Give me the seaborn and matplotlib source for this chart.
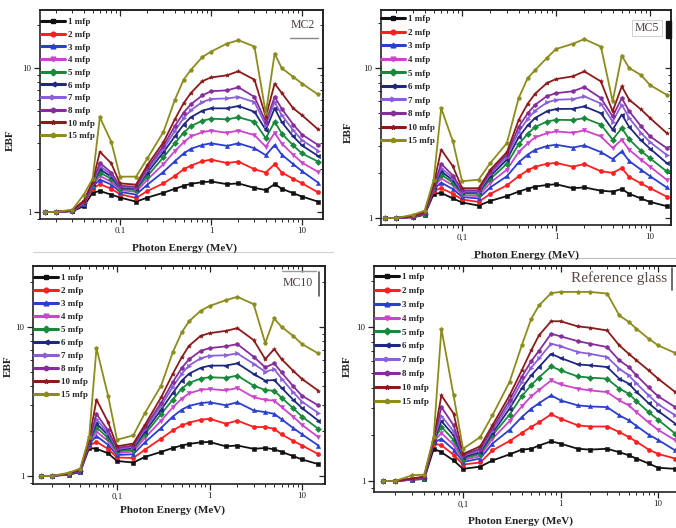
import matplotlib
matplotlib.use("Agg")
import numpy as np
import pandas as pd
import matplotlib.pyplot as plt
from matplotlib.lines import Line2D
from matplotlib.patches import Rectangle
from matplotlib.ticker import FixedLocator, FixedFormatter, LogLocator, NullFormatter
import seaborn as sns

# ---------------------------------------------------------------- data
energy = [0.015, 0.02, 0.03, 0.04, 0.05, 0.06, 0.08, 0.1, 0.15, 0.2, 0.3, 0.4,
          0.5, 0.6, 0.8, 1, 1.5, 2, 3, 4, 5, 6, 8, 10, 15]
depths = ["1 mfp", "2 mfp", "3 mfp", "4 mfp", "5 mfp",
          "6 mfp", "7 mfp", "8 mfp", "10 mfp", "15 mfp"]

# MC2 glass
mc2_1 = [1.00, 1.00, 1.01, 1.10, 1.36, 1.40, 1.32, 1.26, 1.18, 1.26, 1.36, 1.45, 1.52, 1.57, 1.61, 1.63, 1.56, 1.58, 1.47, 1.42, 1.56, 1.45, 1.35, 1.28, 1.18]
mc2_2 = [1.00, 1.00, 1.02, 1.13, 1.45, 1.56, 1.45, 1.33, 1.25, 1.40, 1.58, 1.78, 1.98, 2.10, 2.25, 2.31, 2.19, 2.24, 1.98, 1.88, 2.15, 1.88, 1.70, 1.58, 1.37]
mc2_3 = [1.00, 1.00, 1.02, 1.14, 1.50, 1.68, 1.55, 1.38, 1.32, 1.55, 1.90, 2.25, 2.55, 2.75, 2.92, 3.00, 2.88, 3.00, 2.77, 2.48, 2.92, 2.50, 2.15, 1.92, 1.60]
mc2_4 = [1.00, 1.00, 1.02, 1.15, 1.52, 1.78, 1.62, 1.42, 1.38, 1.68, 2.15, 2.65, 3.05, 3.35, 3.58, 3.68, 3.55, 3.68, 3.42, 2.84, 3.55, 2.98, 2.50, 2.20, 1.90]
mc2_5 = [1.00, 1.00, 1.02, 1.16, 1.55, 1.88, 1.70, 1.45, 1.42, 1.78, 2.40, 3.00, 3.55, 3.95, 4.30, 4.45, 4.40, 4.55, 4.24, 3.25, 4.24, 3.50, 2.90, 2.55, 2.24]
mc2_6 = [1.00, 1.00, 1.02, 1.16, 1.57, 1.98, 1.76, 1.48, 1.45, 1.88, 2.60, 3.35, 4.05, 4.55, 5.05, 5.25, 5.25, 5.45, 4.97, 3.71, 5.25, 4.20, 3.35, 2.90, 2.45]
mc2_7 = [1.00, 1.00, 1.02, 1.17, 1.58, 2.08, 1.82, 1.50, 1.47, 1.95, 2.75, 3.65, 4.50, 5.10, 5.80, 6.10, 6.15, 6.30, 5.80, 4.00, 5.80, 4.70, 3.70, 3.15, 2.67]
mc2_8 = [1.00, 1.00, 1.02, 1.17, 1.60, 2.20, 1.88, 1.52, 1.50, 2.02, 2.88, 3.95, 4.90, 5.60, 6.45, 6.90, 7.00, 7.35, 6.30, 4.24, 6.30, 5.20, 4.05, 3.45, 2.92]
mc2_10 = [1.00, 1.00, 1.03, 1.20, 1.62, 2.62, 2.18, 1.58, 1.55, 2.12, 3.05, 4.40, 5.70, 6.70, 8.10, 8.60, 8.90, 9.50, 8.30, 4.59, 7.80, 6.70, 5.25, 4.70, 3.75]
mc2_15 = [1.00, 1.00, 1.04, 1.32, 1.70, 4.55, 3.08, 1.76, 1.76, 2.36, 3.60, 6.00, 8.30, 9.70, 11.9, 13.0, 14.8, 15.6, 14.1, 4.85, 12.6, 9.95, 8.70, 7.80, 6.55]

# MC5 glass
mc5_1 = [1.00, 1.00, 1.01, 1.05, 1.45, 1.47, 1.35, 1.27, 1.21, 1.30, 1.40, 1.50, 1.57, 1.62, 1.66, 1.68, 1.58, 1.60, 1.52, 1.50, 1.56, 1.45, 1.35, 1.28, 1.20]
mc5_2 = [1.00, 1.00, 1.01, 1.06, 1.52, 1.58, 1.45, 1.33, 1.28, 1.45, 1.65, 1.90, 2.08, 2.20, 2.30, 2.33, 2.20, 2.29, 2.05, 2.00, 2.15, 1.88, 1.70, 1.58, 1.39]
mc5_3 = [1.00, 1.00, 1.02, 1.06, 1.56, 1.72, 1.56, 1.38, 1.35, 1.60, 1.90, 2.35, 2.65, 2.85, 3.02, 3.08, 2.95, 3.05, 2.75, 2.47, 2.78, 2.40, 2.10, 1.90, 1.60]
mc5_4 = [1.00, 1.00, 1.02, 1.07, 1.58, 1.84, 1.65, 1.42, 1.40, 1.72, 2.10, 2.75, 3.15, 3.45, 3.68, 3.78, 3.70, 3.84, 3.50, 2.93, 3.33, 2.85, 2.45, 2.20, 1.80]
mc5_5 = [1.00, 1.00, 1.02, 1.07, 1.60, 1.95, 1.72, 1.46, 1.45, 1.82, 2.30, 3.10, 3.65, 4.05, 4.40, 4.52, 4.50, 4.64, 4.20, 3.33, 3.98, 3.35, 2.80, 2.50, 2.05]
mc5_6 = [1.00, 1.00, 1.02, 1.07, 1.62, 2.05, 1.78, 1.48, 1.48, 1.90, 2.45, 3.45, 4.15, 4.65, 5.15, 5.33, 5.35, 5.55, 5.00, 3.88, 4.90, 4.05, 3.30, 2.90, 2.33]
mc5_7 = [1.00, 1.00, 1.02, 1.08, 1.63, 2.15, 1.85, 1.50, 1.50, 1.97, 2.55, 3.75, 4.60, 5.20, 5.90, 6.15, 6.20, 6.47, 5.80, 4.40, 5.70, 4.65, 3.70, 3.20, 2.64]
mc5_8 = [1.00, 1.00, 1.02, 1.08, 1.64, 2.30, 1.92, 1.53, 1.53, 2.03, 2.65, 4.05, 5.00, 5.70, 6.50, 6.80, 7.00, 7.47, 6.30, 4.76, 6.30, 5.15, 4.10, 3.50, 2.93]
mc5_10 = [1.00, 1.00, 1.03, 1.09, 1.68, 2.86, 2.21, 1.58, 1.58, 2.10, 2.75, 4.50, 5.80, 6.75, 7.95, 8.45, 8.80, 9.50, 8.15, 5.14, 7.55, 6.15, 5.30, 4.64, 3.69]
mc5_15 = [1.00, 1.00, 1.05, 1.12, 1.80, 5.40, 3.24, 1.76, 1.80, 2.33, 3.16, 6.30, 8.60, 9.70, 11.7, 13.4, 14.5, 15.6, 13.9, 6.00, 12.1, 10.0, 9.00, 7.70, 6.64]

# MC10 glass
mc10_1 = [1.00, 1.00, 1.02, 1.06, 1.54, 1.52, 1.42, 1.26, 1.23, 1.34, 1.45, 1.54, 1.60, 1.64, 1.68, 1.69, 1.58, 1.60, 1.52, 1.54, 1.51, 1.45, 1.36, 1.29, 1.20]
mc10_2 = [1.00, 1.00, 1.03, 1.07, 1.60, 1.69, 1.52, 1.33, 1.32, 1.50, 1.78, 2.02, 2.18, 2.28, 2.38, 2.42, 2.24, 2.35, 2.13, 2.13, 2.07, 1.90, 1.72, 1.60, 1.40]
mc10_3 = [1.00, 1.00, 1.03, 1.07, 1.64, 1.85, 1.62, 1.38, 1.40, 1.68, 2.10, 2.50, 2.78, 2.95, 3.08, 3.12, 2.98, 3.12, 2.75, 2.68, 2.61, 2.40, 2.10, 1.90, 1.60]
mc10_4 = [1.00, 1.00, 1.03, 1.08, 1.66, 1.98, 1.72, 1.42, 1.46, 1.80, 2.35, 2.88, 3.30, 3.58, 3.78, 3.83, 3.75, 3.89, 3.37, 3.24, 3.20, 2.90, 2.50, 2.20, 1.82]
mc10_5 = [1.00, 1.00, 1.03, 1.08, 1.68, 2.12, 1.80, 1.46, 1.50, 1.90, 2.60, 3.25, 3.85, 4.20, 4.50, 4.59, 4.55, 4.71, 4.03, 3.77, 3.73, 3.35, 2.85, 2.50, 2.07]
mc10_6 = [1.00, 1.00, 1.03, 1.08, 1.70, 2.25, 1.88, 1.49, 1.54, 1.98, 2.78, 3.60, 4.35, 4.85, 5.30, 5.49, 5.50, 5.69, 4.83, 4.36, 4.40, 3.90, 3.25, 2.85, 2.35]
mc10_7 = [1.00, 1.00, 1.03, 1.09, 1.71, 2.40, 1.95, 1.51, 1.57, 2.05, 2.95, 3.95, 4.85, 5.50, 6.15, 6.40, 6.45, 6.63, 5.65, 5.00, 5.20, 4.50, 3.65, 3.15, 2.64]
mc10_8 = [1.00, 1.00, 1.03, 1.09, 1.72, 2.60, 2.02, 1.54, 1.60, 2.12, 3.10, 4.25, 5.30, 6.05, 6.90, 7.20, 7.40, 7.66, 6.30, 5.35, 5.69, 4.95, 4.00, 3.45, 2.97]
mc10_10 = [1.00, 1.00, 1.04, 1.10, 1.75, 3.25, 2.30, 1.58, 1.65, 2.20, 3.37, 4.83, 6.24, 7.46, 8.70, 9.07, 9.40, 9.80, 8.15, 6.08, 7.10, 6.08, 5.08, 4.47, 3.73]
mc10_15 = [1.00, 1.00, 1.05, 1.12, 1.82, 7.20, 3.46, 1.75, 1.87, 2.64, 4.03, 6.74, 9.17, 10.9, 12.8, 13.8, 15.1, 15.9, 14.2, 7.78, 11.4, 10.0, 8.71, 7.66, 6.63]

# Reference glass
ref_1 = [1.00, 1.00, 1.02, 1.03, 1.62, 1.54, 1.36, 1.20, 1.24, 1.36, 1.49, 1.60, 1.62, 1.70, 1.81, 1.75, 1.62, 1.60, 1.62, 1.54, 1.47, 1.40, 1.30, 1.22, 1.20]
ref_2 = [1.00, 1.00, 1.02, 1.04, 1.75, 1.71, 1.48, 1.28, 1.32, 1.58, 1.82, 2.05, 2.25, 2.40, 2.71, 2.54, 2.30, 2.26, 2.26, 2.08, 1.93, 1.80, 1.60, 1.50, 1.40]
ref_3 = [1.00, 1.00, 1.02, 1.04, 1.78, 1.88, 1.60, 1.33, 1.40, 1.75, 2.15, 2.60, 2.95, 3.20, 3.60, 3.34, 3.10, 3.05, 3.02, 2.67, 2.48, 2.28, 2.00, 1.85, 1.58]
ref_4 = [1.00, 1.00, 1.02, 1.05, 1.80, 2.05, 1.72, 1.37, 1.45, 1.88, 2.45, 3.05, 3.55, 3.90, 4.50, 4.24, 3.98, 3.88, 3.78, 3.34, 3.10, 2.80, 2.40, 2.15, 1.84]
ref_5 = [1.00, 1.00, 1.03, 1.05, 1.82, 2.25, 1.85, 1.40, 1.50, 1.98, 2.70, 3.55, 4.20, 4.70, 5.55, 5.23, 4.78, 4.69, 4.62, 3.98, 3.69, 3.30, 2.80, 2.50, 2.03]
ref_6 = [1.00, 1.00, 1.03, 1.05, 1.83, 2.45, 1.98, 1.43, 1.54, 2.05, 2.95, 4.00, 4.85, 5.50, 6.70, 6.30, 5.72, 5.64, 5.50, 4.62, 4.29, 3.80, 3.20, 2.85, 2.36]
ref_7 = [1.00, 1.00, 1.03, 1.06, 1.85, 2.65, 2.10, 1.46, 1.58, 2.12, 3.15, 4.40, 5.45, 6.25, 7.80, 7.50, 6.88, 6.70, 6.38, 5.36, 4.86, 4.30, 3.60, 3.15, 2.67]
ref_8 = [1.00, 1.00, 1.03, 1.06, 1.86, 3.02, 2.30, 1.48, 1.62, 2.20, 3.35, 4.75, 6.00, 7.00, 9.05, 8.70, 8.10, 7.80, 7.41, 6.08, 5.50, 4.85, 4.05, 3.55, 3.02]
ref_10 = [1.00, 1.00, 1.04, 1.07, 1.88, 3.60, 2.74, 1.50, 1.68, 2.30, 3.60, 5.23, 7.05, 8.83, 10.9, 10.9, 10.1, 9.90, 9.50, 7.60, 6.70, 6.08, 5.23, 4.62, 3.78]
ref_15 = [1.00, 1.00, 1.09, 1.10, 1.93, 9.75, 3.60, 1.62, 1.93, 2.67, 4.40, 7.60, 11.3, 13.8, 16.6, 16.9, 16.9, 16.9, 16.5, 11.9, 10.8, 9.75, 8.40, 7.60, 6.78]

panel_series = {
    "MC2": [mc2_1, mc2_2, mc2_3, mc2_4, mc2_5, mc2_6, mc2_7, mc2_8, mc2_10, mc2_15],
    "MC5": [mc5_1, mc5_2, mc5_3, mc5_4, mc5_5, mc5_6, mc5_7, mc5_8, mc5_10, mc5_15],
    "MC10": [mc10_1, mc10_2, mc10_3, mc10_4, mc10_5, mc10_6, mc10_7, mc10_8, mc10_10, mc10_15],
    "Reference glass": [ref_1, ref_2, ref_3, ref_4, ref_5, ref_6, ref_7, ref_8, ref_10, ref_15],
}

# ---------------------------------------------------------------- style
colors = ["#111111", "#ff1f1f", "#2a3fd0", "#cc44cc", "#17893a",
          "#1f2780", "#8a5fd8", "#862d9c", "#8b1a1a", "#8c8c1e"]
markers = ["s", "o", "^", "v", "D", "<", ">", "h", "*", "p"]
palette = dict(zip(depths, colors))
marker_map = dict(zip(depths, markers))

sns.set_theme(style="ticks")
plt.rcParams["font.family"] = ["Liberation Serif", "DejaVu Serif"]
plt.rcParams["axes.linewidth"] = 1.2
plt.rcParams["axes.edgecolor"] = "#222222"

W, H = 676, 528
fig = plt.figure(figsize=(W / 100, H / 100), dpi=100)
fig.patch.set_facecolor("white")


def fig_xy(x, y):
    return x / W, 1 - y / H


# panel geometry: (left, top, right, bottom) in px, xlim, ylim
layout = {
    "MC2": dict(box=(40, 10, 323, 219), xlim=(0.0132, 17.0), ylim=(0.894, 25.3),
                tick01="0.1", xlabel=(185, 248), ylabel=(10, 140), leg=(41, 18), lsp=0.48),
    "MC5": dict(box=(381, 10, 671, 225), xlim=(0.01374, 16.7), ylim=(0.898, 24.4),
                tick01="0,1", xlabel=(526, 255), ylabel=(348, 132), leg=(381, 15), lsp=0.58),
    "MC10": dict(box=(33, 266, 325, 484), xlim=(0.01236, 17.7), ylim=(0.883, 25.6),
                 tick01="0,1", xlabel=(173, 510), ylabel=(8, 366), leg=(34, 274), lsp=0.52),
    "Reference glass": dict(box=(374, 266, 683, 492), xlim=(0.01222, 18.0), ylim=(0.849, 24.9),
                            tick01="0,1", xlabel=(520, 521), ylabel=(347, 366), leg=(375, 273), lsp=0.61),
}

minor_subs = np.arange(2, 10)

for name, series in panel_series.items():
    cfg = layout[name]
    l, t, r, b = cfg["box"]
    ax = fig.add_axes([l / W, 1 - b / H, (r - l) / W, (b - t) / H])

    df = pd.DataFrame({
        "energy": np.tile(energy, len(depths)),
        "EBF": np.concatenate(series),
        "depth": np.repeat(depths, len(energy)),
    })
    sns.lineplot(data=df, x="energy", y="EBF", hue="depth", style="depth",
                 hue_order=depths, style_order=depths, palette=palette,
                 markers=marker_map, dashes=False, errorbar=None, legend=False,
                 linewidth=1.3, markersize=3.0, ax=ax)
    for ln in ax.lines:
        ln.set_markeredgecolor(ln.get_color())
        ln.set_markeredgewidth(0.4)

    ax.set_xscale("log")
    ax.set_yscale("log")
    ax.set_xlim(*cfg["xlim"])
    ax.set_ylim(*cfg["ylim"])
    ax.set_xlabel("")
    ax.set_ylabel("")
    ax.set_facecolor("white")

    ax.xaxis.set_major_locator(FixedLocator([0.1, 1, 10]))
    ax.xaxis.set_major_formatter(FixedFormatter([cfg["tick01"], "1", "10"]))
    ax.xaxis.set_minor_locator(LogLocator(base=10, subs=minor_subs))
    ax.xaxis.set_minor_formatter(NullFormatter())
    ax.yaxis.set_major_locator(FixedLocator([1, 10]))
    ax.yaxis.set_major_formatter(FixedFormatter(["1", "10"]))
    ax.yaxis.set_minor_locator(LogLocator(base=10, subs=minor_subs))
    ax.yaxis.set_minor_formatter(NullFormatter())
    ax.tick_params(which="major", direction="out", length=4, width=0.9,
                   labelsize=6.5, pad=2, colors="#222222")
    ax.tick_params(which="minor", direction="out", length=2, width=0.7)

    # mirrored ticks on top/right, pointing inward
    secx = ax.secondary_xaxis("top")
    secx.xaxis.set_major_locator(FixedLocator([0.1, 1, 10]))
    secx.xaxis.set_minor_locator(LogLocator(base=10, subs=minor_subs))
    secx.tick_params(which="major", direction="in", length=4, width=0.9, labeltop=False)
    secx.tick_params(which="minor", direction="in", length=2, width=0.7)
    secy = ax.secondary_yaxis("right")
    secy.yaxis.set_major_locator(FixedLocator([1, 10]))
    secy.yaxis.set_minor_locator(LogLocator(base=10, subs=minor_subs))
    secy.tick_params(which="major", direction="in", length=4, width=0.9, labelright=False)
    secy.tick_params(which="minor", direction="in", length=2, width=0.7)

    # axis titles
    xx, xy = fig_xy(*cfg["xlabel"])
    fig.text(xx, xy, "Photon Energy (MeV)", ha="center", va="center",
             fontsize=8, fontweight="bold", color="#222222")
    yx, yy = fig_xy(*cfg["ylabel"])
    fig.text(yx, yy, "EBF", ha="center", va="center", rotation=90,
             fontsize=8, fontweight="bold", color="#222222")

    # legend
    handles = [Line2D([], [], color=c, marker=m, markersize=3.4, lw=2.2,
                      markeredgecolor=c) for c, m in zip(colors, markers)]
    lx, ly = fig_xy(*cfg["leg"])
    ax.legend(handles, depths, loc="upper left", bbox_to_anchor=(lx, ly),
              bbox_transform=fig.transFigure, frameon=False,
              prop=dict(family=["Liberation Serif"], weight="bold", size=6.5),
              handlelength=2.7, handletextpad=0.3, labelspacing=cfg["lsp"],
              borderpad=0, borderaxespad=0)

# ---------------------------------------------------------------- panel tags
tag_color = "#4d3b3b"
fig.text(*fig_xy(303, 25), "MC2", ha="center", va="center", fontsize=8.5, color=tag_color)
fig.add_artist(Line2D([290 / W, 318 / W], [1 - 38 / H, 1 - 38 / H], color="#888888", lw=1.0))

fig.text(*fig_xy(647, 28), "MC5", ha="center", va="center", fontsize=8.5, color=tag_color,
         bbox=dict(boxstyle="square,pad=0.2", fc="white", ec="#c8c8c8", lw=0.6))
fig.add_artist(Rectangle((666 / W, 1 - 38 / H), 5 / W, 17 / H, color="#111111",
                         transform=fig.transFigure))

fig.text(*fig_xy(298, 283), "MC10", ha="center", va="center", fontsize=8.5, color=tag_color)
fig.add_artist(Line2D([282 / W, 316 / W], [1 - 271 / H, 1 - 271 / H], color="#999999", lw=1.0))
fig.add_artist(Line2D([319 / W, 319 / W], [1 - 272 / H, 1 - 296 / H], color="#555555", lw=1.2))

fig.text(*fig_xy(619, 278), "Reference glass", ha="center", va="center", fontsize=11,
         color="#5a4a44")
fig.add_artist(Line2D([672 / W, 672 / W], [1 - 268 / H, 1 - 290 / H], color="#555555", lw=1.2))

# thin rules beneath the upper panels
fig.add_artist(Line2D([33 / W, 333 / W], [1 - 252 / H, 1 - 252 / H], color="#d0d0d0", lw=0.8))
fig.add_artist(Line2D([471 / W, 676 / W], [1 - 258 / H, 1 - 258 / H], color="#bdbdbd", lw=0.8))

fig.savefig("out.png", dpi=100, facecolor="white")
